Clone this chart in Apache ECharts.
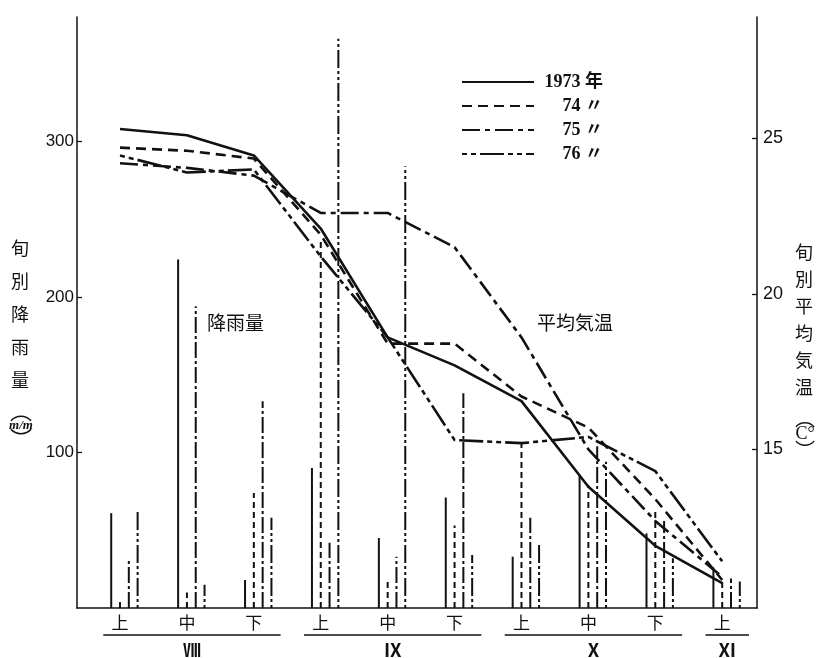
<!DOCTYPE html>
<html>
<head>
<meta charset="utf-8">
<script src="https://cdn.jsdelivr.net/npm/echarts/dist/echarts.min.js"></script>
<style>html,body{margin:0;padding:0;background:#fff;}#c{width:818px;height:658px;}</style>
</head>
<body>
<div id="c"></div>
<script>
// ---- data ----
const dekads = ['上','中','下','上','中','下','上','中','下','上'];
const monthNames = ['Ⅷ','Ⅸ','Ⅹ','Ⅺ'];
const monthFirst = [0, 3, 6, 9];
const monthLast  = [2, 5, 8, 9];
const years = ['1973 年', '74 〃', '75 〃', '76 〃'];

const rain1973 = [61, 224, 18, 90, 45, 71, 33, 85, 48, 26];
const rain1974 = [4, 10, 74, 236, 17, 53, 106, 79, 63, 19];
const rain1975 = [31, 194, 133, 42, 33, 138, 58, 104, 56, 19];
const rain1976 = [63, 15, 58, 366, 284, 34, 41, 94, 32, 17];

const temp1973 = [25.3, 25.1, 24.45, 22.1, 18.6, 17.7, 16.55, 13.8, 11.9, 10.7];
const temp1974 = [24.7, 24.6, 24.35, 21.9, 18.4, 18.4, 16.7, 15.7, 13.4, 10.8];
const temp1975 = [24.2, 24.05, 23.8, 22.6, 22.6, 21.5, 18.6, 15.0, 12.7, 10.9];
const temp1976 = [24.45, 23.9, 24.0, 21.2, 18.6, 15.3, 15.2, 15.4, 14.3, 11.4];

const rainTicks = [100, 200, 300];
const tempTicks = [15, 20, 25];

// ---- styles ----
const INK = '#111';
const CJK = '"Noto Sans CJK JP"';
const rains = [rain1973, rain1974, rain1975, rain1976];
const temps = [temp1973, temp1974, temp1975, temp1976];
const barOffsets = [-8.8, 0, 8.8, 17.6];
const barDash = [null, [6, 4], [16, 3, 3, 3], [3, 3, 3, 3, 18, 3]];
const lineDash = ['solid', [10, 6], [18, 5, 5, 5], [5, 4, 5, 4, 24, 4]];

function barRender(k) {
  return function (params, api) {
    const x = api.value(0), v = api.value(1);
    const base = api.coord([x, 0]);
    const top = api.coord([x, v]);
    const px = base[0] + barOffsets[k];
    const style = { stroke: INK, lineWidth: 2 };
    if (barDash[k]) style.lineDash = barDash[k];
    return { type: 'line', silent: true, shape: { x1: px, y1: base[1], x2: px, y2: top[1] }, style: style };
  };
}

const series = [];
rains.forEach(function (r, k) {
  series.push({
    type: 'custom', name: 'rain ' + years[k], xAxisIndex: 0, yAxisIndex: 0,
    clip: false, silent: true, z: 2,
    data: r.map(function (v, i) { return [i, v]; }),
    renderItem: barRender(k)
  });
});
temps.forEach(function (t, k) {
  series.push({
    type: 'line', name: years[k], xAxisIndex: 0, yAxisIndex: 1,
    symbol: 'none', showSymbol: false, silent: true, z: 3,
    lineStyle: { color: INK, width: 2.6, type: lineDash[k] },
    itemStyle: { color: INK },
    data: t.map(function (v, i) { return [i, v]; })
  });
});
series.push({
  type: 'custom', name: 'months', xAxisIndex: 0, yAxisIndex: 0, clip: false, silent: true,
  data: monthFirst.map(function (f, j) { return [f, monthLast[j]]; }),
  renderItem: function (params, api) {
    const f = api.value(0), l = api.value(1);
    const a = api.coord([f - 0.25, 0]);
    const b = api.coord([l + 0.4, 0]);
    const y = a[1] + 27;
    return {
      type: 'group', children: [
        { type: 'line', shape: { x1: a[0], y1: y, x2: b[0], y2: y }, style: { stroke: INK, lineWidth: 1.4 } },
        { type: 'text', style: { text: monthNames[params.dataIndex], x: (a[0] + b[0]) / 2, y: y + 15,
          align: 'center', verticalAlign: 'middle', font: 'bold 18px ' + CJK, fill: INK } }
      ]
    };
  }
});

const chart = echarts.init(document.getElementById('c'), null, { renderer: 'canvas' });
chart.setOption({
  backgroundColor: '#fff',
  animation: false,
  grid: { left: 77, right: 61, top: 17, bottom: 50 },
  xAxis: [{
    type: 'value', min: -0.643, max: 9.52,
    axisLine: { show: true, onZero: false, lineStyle: { color: INK, width: 1.6 } },
    axisTick: { show: false }, splitLine: { show: false },
    axisLabel: {
      customValues: dekads.map(function (d, i) { return i; }),
      formatter: function (v) { return dekads[Math.round(v)]; },
      color: INK, fontSize: 17, fontFamily: CJK, margin: 6
    }
  }],
  yAxis: [{
    type: 'value', min: 0, max: 380, position: 'left',
    axisLine: { show: true, onZero: false, lineStyle: { color: INK, width: 1.5 } },
    axisTick: { show: true, inside: true, length: 5, customValues: rainTicks, lineStyle: { color: INK, width: 1.3 } },
    axisLabel: { customValues: rainTicks, color: INK, fontSize: 17, fontFamily: 'Liberation Sans', margin: 3 },
    splitLine: { show: false }
  }, {
    type: 'value', min: 9.9, max: 28.9, position: 'right',
    axisLine: { show: true, onZero: false, lineStyle: { color: INK, width: 1.5 } },
    axisTick: { show: true, inside: true, length: 5, customValues: tempTicks, lineStyle: { color: INK, width: 1.3 } },
    axisLabel: { customValues: tempTicks, color: INK, fontSize: 18, fontFamily: 'Liberation Sans', margin: 6 },
    splitLine: { show: false }
  }],
  legend: {
    data: years, left: 456, top: 68, orient: 'vertical',
    itemWidth: 72, itemHeight: 14, itemGap: 6, selectedMode: false,
    itemStyle: { opacity: 0 },
    formatter: function (n) { return '{n|' + n + '}'; },
    textStyle: {
      color: INK,
      rich: { n: { width: 64, align: 'right', fontSize: 18, lineHeight: 17, fontWeight: 'bold', color: INK,
        fontFamily: '"Liberation Serif", "Noto Sans CJK JP"' } }
    }
  },
  graphic: [
    { type: 'text', left: 207, top: 313, silent: true, style: { text: '降雨量', font: '19px ' + CJK, fill: INK } },
    { type: 'text', left: 537, top: 313, silent: true, style: { text: '平均気温', font: '19px ' + CJK, fill: INK } },
    { type: 'text', x: 20, y: 232, silent: true, style: { text: '旬\n別\n降\n雨\n量', font: '18px ' + CJK, lineHeight: 33, align: 'center', fill: INK } },
    { type: 'text', x: 21, y: 400, silent: true, style: { text: '︵', font: '22px ' + CJK, align: 'center', fill: INK } },
    { type: 'text', x: 21, y: 419, silent: true, style: { text: 'm/m', font: 'italic bold 13px "Liberation Serif"', align: 'center', fill: INK } },
    { type: 'text', x: 21, y: 428, silent: true, style: { text: '︶', font: '22px ' + CJK, align: 'center', fill: INK } },
    { type: 'text', x: 804, y: 239, silent: true, style: { text: '旬\n別\n平\n均\n気\n温', font: '18px ' + CJK, lineHeight: 27, align: 'center', fill: INK } },
    { type: 'text', x: 805, y: 408, silent: true, style: { text: '︵', font: '20px ' + CJK, align: 'center', fill: INK } },
    { type: 'text', x: 805, y: 425, silent: true, style: { text: 'C°', font: '18px "Liberation Serif"', align: 'center', fill: INK } },
    { type: 'text', x: 805, y: 440, silent: true, style: { text: '︶', font: '20px ' + CJK, align: 'center', fill: INK } }
  ],
  series: series
});
</script>
</body>
</html>
